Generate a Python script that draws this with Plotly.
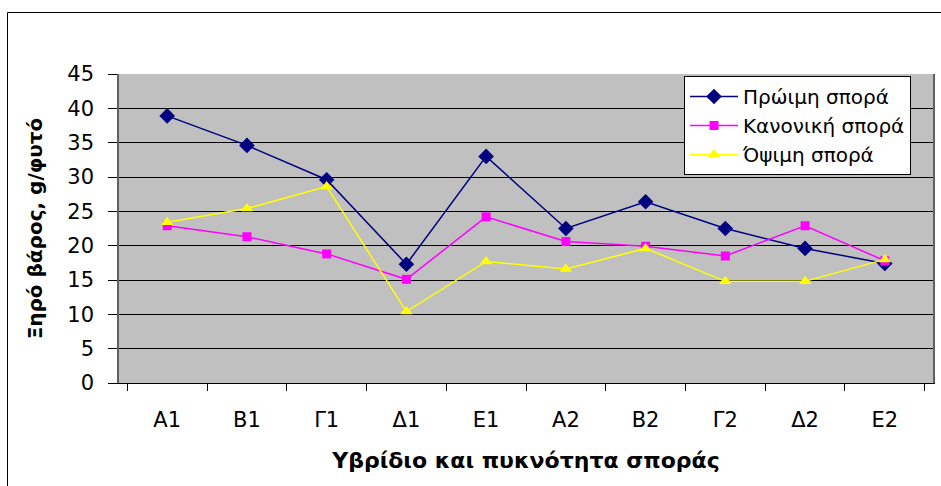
import plotly.graph_objects as go

categories = ["Α1", "Β1", "Γ1", "Δ1", "Ε1", "Α2", "Β2", "Γ2", "Δ2", "Ε2"]
early = [38.9, 34.6, 29.6, 17.3, 33.0, 22.5, 26.4, 22.5, 19.6, 17.4]
normal = [22.9, 21.3, 18.8, 15.1, 24.2, 20.6, 19.9, 18.5, 22.9, 17.8]
late = [23.4, 25.4, 28.6, 10.4, 17.7, 16.6, 19.6, 14.8, 14.8, 18.0]
names = ["Πρώιμη σπορά", "Κανονική σπορά", "Όψιμη σπορά"]
y_ticks = [0, 5, 10, 15, 20, 25, 30, 35, 40, 45]

WIDE = "DejaVu Sans, sans-serif"

fig = go.Figure()
fig.add_trace(go.Scatter(x=categories, y=early, name=names[0], mode="lines+markers",
                         line=dict(color="#000080", width=1.5),
                         marker=dict(symbol="diamond", size=12, color="#000080"),
                         legendgroup="a"))
fig.add_trace(go.Scatter(x=categories, y=normal, name=names[1], mode="lines+markers",
                         line=dict(color="#FF00FF", width=1.5),
                         marker=dict(symbol="square", size=9, color="#FF00FF"),
                         legendgroup="b"))
fig.add_trace(go.Scatter(x=categories, y=late, name=names[2], mode="lines+markers",
                         line=dict(color="#FFFF00", width=1.5),
                         marker=dict(symbol="triangle-up", size=11, color="#FFFF00"),
                         legendgroup="c"))

fig.update_layout(
    width=941, height=486,
    margin=dict(l=119, r=8, t=74, b=103, autoexpand=False),
    paper_bgcolor="white",
    plot_bgcolor="#C0C0C0",
    font=dict(family=WIDE, size=18, color="black"),
    showlegend=True,
    legend=dict(x=(684 - 119) / 814, y=(383 - 76) / 309, xanchor="left", yanchor="top",
                bgcolor="white", bordercolor="black", borderwidth=1,
                font=dict(family=WIDE, size=20, color="black"),
                tracegroupgap=0, itemwidth=48),
    xaxis=dict(type="category", tickson="boundaries", ticks="outside", ticklen=7,
               tickcolor="black", showline=True, linecolor="black", linewidth=1,
               mirror=False, showgrid=False, ticklabelstandoff=18, automargin=False,
               tickfont=dict(family=WIDE, size=21, color="black"),
               title=dict(text="<b>Υβρίδιο και πυκνότητα σποράς</b>", standoff=21,
                          font=dict(family=WIDE, size=22, color="black"))),
    yaxis=dict(range=[0, 45], tickvals=y_ticks, ticks="outside", ticklen=9,
               tickcolor="black", showline=True, linecolor="#606060", linewidth=1.5,
               mirror=True, showgrid=True, gridcolor="black", gridwidth=1,
               zeroline=False, ticklabelstandoff=10, automargin=False,
               tickfont=dict(family=WIDE, size=21, color="black"),
               title=dict(text="<b>Ξηρό βάρος, g/φυτό</b>", standoff=19,
                          font=dict(family=WIDE, size=20, color="black"))),
    shapes=[dict(type="rect", xref="paper", yref="paper",
                 x0=(7.5 - 119) / 814, x1=(950 - 119) / 814,
                 y0=(383 - 495) / 309, y1=(383 - 12.5) / 309,
                 line=dict(color="black", width=1), fillcolor="rgba(0,0,0,0)",
                 layer="below")],
)

fig.write_html("out.html", config={"displayModeBar": False},
               post_script="document.body.style.margin='0';")
